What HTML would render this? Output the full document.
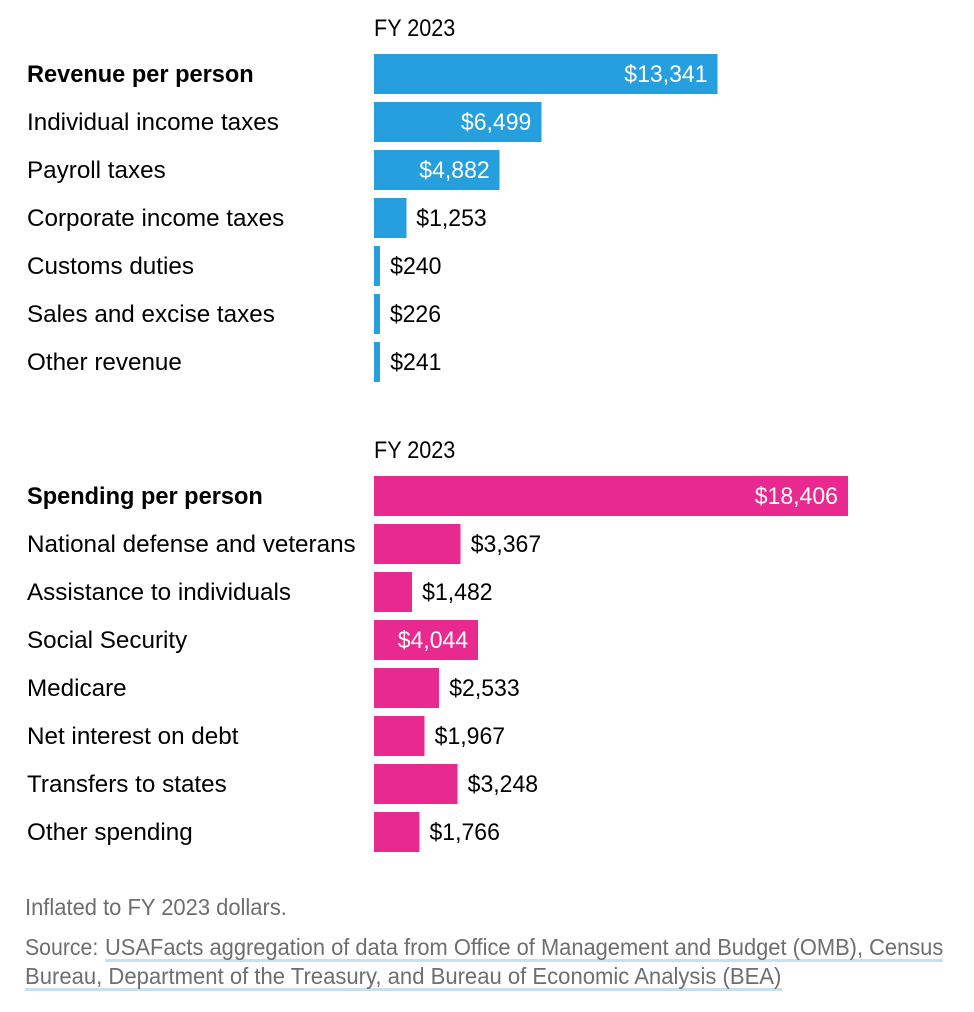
<!DOCTYPE html>
<html lang="en">
<head>
<meta charset="utf-8">
<title>Revenue and spending per person</title>
<style>
html,body{margin:0;padding:0;background:#fff;width:974px;height:1012px;overflow:hidden}
svg{display:block}
text{font-family:"Liberation Sans",sans-serif;font-size:24px;fill:#000}
.bold{font-weight:700}
.foot{fill:#6e6e6e;font-size:23px}
.on-bar{fill:#fff}
rect{shape-rendering:crispEdges}
</style>
</head>
<body>
<svg id="chart" width="974" height="1012" viewBox="0 0 974 1012" xmlns="http://www.w3.org/2000/svg">
  <g id="revenue-panel"></g>
  <g id="spending-panel"></g>
  <g>
    <rect x="105" y="959" width="838" height="3" fill="#c6e0ef"/>
    <rect x="25" y="988" width="757" height="3" fill="#c6e0ef"/>
    <text class="foot" transform="translate(25 915) scale(0.955 1)">Inflated to FY 2023 dollars.</text>
    <text class="foot" transform="translate(25 955) scale(0.925 1)">Source:</text>
    <text class="foot" transform="translate(105 955) scale(0.951 1)">USAFacts aggregation of data from Office of Management and Budget (OMB), Census</text>
    <text class="foot" transform="translate(25 984) scale(0.96 1)">Bureau, Department of the Treasury, and Bureau of Economic Analysis (BEA)</text>
  </g>
</svg>
<script>
const revenueCategories = ["Revenue per person","Individual income taxes","Payroll taxes","Corporate income taxes","Customs duties","Sales and excise taxes","Other revenue"];
const revenueValues = [13341,6499,4882,1253,240,226,241];
const spendingCategories = ["Spending per person","National defense and veterans","Assistance to individuals","Social Security","Medicare","Net interest on debt","Transfers to states","Other spending"];
const spendingValues = [18406,3367,1482,4044,2533,1967,3248,1766];
const periodLabel = "FY 2023";

const NS = "http://www.w3.org/2000/svg";
const BAR_X = 374;
const PX_PER_DOLLAR = 474 / 18406;
const ROW_STEP = 48;
const BAR_H = 40;
const LABEL_SCALE = 1.01;
const BOLD_SCALE = 0.983;
const VALUE_SCALE = 0.96;
const HEAD_SCALE = 0.9;
const INSIDE_MIN_PX = 95;

function xScale(v){ return v * PX_PER_DOLLAR; }
function fmt(v){ return "$" + Number(v).toLocaleString("en-US"); }
function placeText(el, x, y, s){ el.setAttribute("transform", "translate(" + x + " " + y + ") scale(" + s + " 1)"); }

function drawPanel(panelId, top, cats, vals, color){
  const g = document.getElementById(panelId);
  const head = document.createElementNS(NS, "text");
  
  
  head.textContent = periodLabel;
  placeText(head, BAR_X, top - 18, HEAD_SCALE);
  g.appendChild(head);
  cats.forEach(function(cat, i){
    const y = top + i * ROW_STEP;
    const w = xScale(vals[i]);
    const label = document.createElementNS(NS, "text");
    
    
    label.textContent = cat;
    if (i === 0) label.setAttribute("class", "bold");
    placeText(label, 27, y + 28, i === 0 ? BOLD_SCALE : LABEL_SCALE);
    g.appendChild(label);
    const bar = document.createElementNS(NS, "rect");
    
    
    bar.setAttribute("x", BAR_X);
    bar.setAttribute("y", y);
    bar.setAttribute("width", w);
    bar.setAttribute("height", BAR_H);
    bar.setAttribute("fill", color);
    g.appendChild(bar);
    const val = document.createElementNS(NS, "text");
    
    
    val.textContent = fmt(vals[i]);
    if (w > INSIDE_MIN_PX) {
      val.setAttribute("class", "on-bar");
      val.setAttribute("text-anchor", "end");
      placeText(val, BAR_X + w - 10, y + 28, VALUE_SCALE);
    } else {
      placeText(val, BAR_X + w + 10, y + 28, VALUE_SCALE);
    }
    g.appendChild(val);
  });
}
drawPanel("revenue-panel", 54, revenueCategories, revenueValues, "#259fdd");
drawPanel("spending-panel", 476, spendingCategories, spendingValues, "#e8298f");
</script>
</body>
</html>
